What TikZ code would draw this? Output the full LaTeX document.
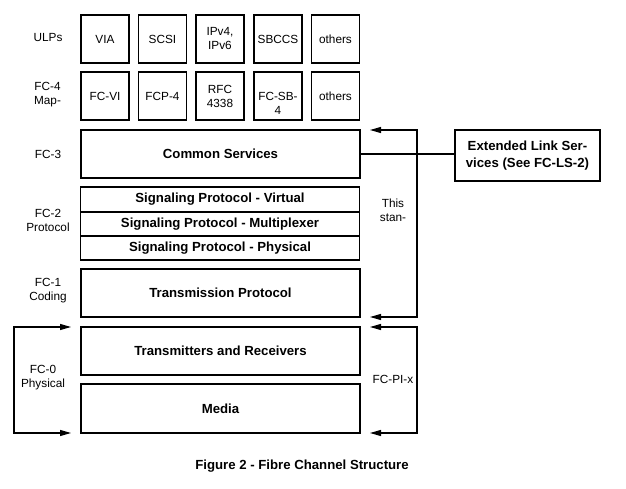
\documentclass[tikz,border=0pt]{standalone}
\usepackage{fontspec}
\setmainfont{Liberation Sans}
\usetikzlibrary{arrows.meta}
\newcommand{\regf}{\fontsize{11.8}{14}\selectfont}
\newcommand{\bldf}{\fontsize{13.2}{16.5}\selectfont\bfseries}
\begin{document}
\begin{tikzpicture}[x=1pt,y=-1pt,
  sbox/.style={draw,line width=1.1pt,minimum width=48pt,minimum height=48pt,inner sep=0pt,align=center,font=\regf},
  wbox/.style={draw,line width=1.1pt,minimum width=279pt,inner sep=0pt,align=center,font=\bldf},
  lab/.style={align=center,font=\regf,inner sep=0pt},
  ln/.style={line width=1.1pt},
  arr/.style={line width=1.1pt,{Triangle[length=11pt,width=6pt]}-{Triangle[length=11pt,width=6pt]}}]
\useasboundingbox (0,0) rectangle (626,489);
% left labels
\node[lab] (lulp) at (48,38) {ULPs};
\node[lab] (lfc4) at (47.5,95) {FC-4\\Map-};
\node[lab] (lfc3) at (48,154) {FC-3};
\node[lab] (lfc2) at (48,220) {FC-2\\Protocol};
\node[lab] (lfc1) at (48,291) {FC-1\\Coding};
\node[lab] (lfc0) at (43,378) {FC-0\\Physical};
% ULPs row
\node[sbox] (u1) at (105,39) {VIA};
\node[sbox] (u2) at (162.5,39) {SCSI};
\node[sbox] (u3) at (220,39) {IPv4,\\IPv6};
\node[sbox] (u4) at (278,39) {SBCCS};
\node[sbox] (u5) at (335.5,39) {others};
% FC-4 row
\node[sbox] (m1) at (105,96) {FC-VI};
\node[sbox] (m2) at (162.5,96) {FCP-4};
\node[sbox] (m3) at (220,96) {RFC\\4338};
\node[sbox] (m4) at (278,96) {};
\node[lab] (m4t) at (278,103) {FC-SB-\\4};
\node[sbox] (m5) at (335.5,96) {others};
% wide boxes
\node[wbox,minimum height=48pt] (cs) at (220.5,154) {Common Services};
\node[wbox,minimum height=25pt] (sv) at (220,199.5) {Signaling Protocol - Virtual};
\node[wbox,minimum height=24pt] (sm) at (220,224) {Signaling Protocol - Multiplexer};
\node[wbox,minimum height=24pt] (sp) at (220,248) {Signaling Protocol - Physical};
\node[wbox,minimum height=48pt] (tp) at (220.5,293) {Transmission Protocol};
\node[wbox,minimum height=48pt] (tr) at (220.5,351) {Transmitters and Receivers};
\node[wbox,minimum height=49pt] (md) at (220.5,408.5) {Media};
% extended link services
\node[draw,line width=1.1pt,minimum width=145pt,minimum height=51pt,inner sep=0pt,align=center,font=\bldf] (els) at (527.5,155.5) {Extended Link Ser-\\vices (See FC-LS-2)};
% right labels
\node[lab] (this) at (393,210) {This\\stan-};
\node[lab] (pi) at (393,379) {FC-PI-x};
% caption
\node[font=\bldf,inner sep=0pt] (cap) at (302,466) {Figure 2 - Fibre Channel Structure};
% connector coordinates
\coordinate (ra) at (370,130);
\coordinate (rb) at (417,130);
\coordinate (rc) at (417,317);
\coordinate (rd) at (370,317);
\coordinate (pa) at (370,327);
\coordinate (pb) at (417,327);
\coordinate (pc) at (417,433);
\coordinate (pd) at (370,433);
\coordinate (la) at (71,327);
\coordinate (lb) at (14,327);
\coordinate (lc) at (14,433);
\coordinate (ld) at (71,433);
% connectors
\draw[ln] (cs.east) -- (els.west |- cs.east);
\draw[arr] (ra) -- (rb) -- (rc) -- (rd);
\draw[arr] (pa) -- (pb) -- (pc) -- (pd);
\draw[arr] (la) -- (lb) -- (lc) -- (ld);
\end{tikzpicture}
\end{document}
